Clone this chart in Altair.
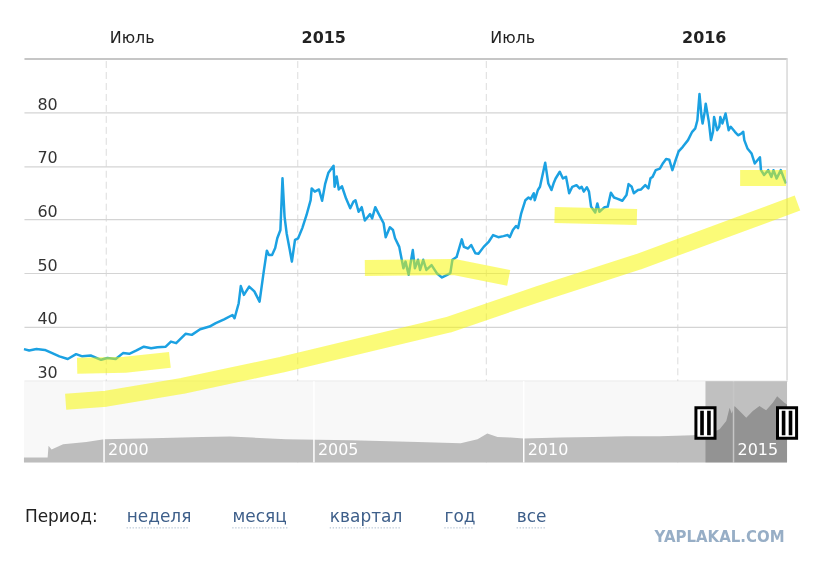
import altair as alt
import pandas as pd

# ---------------- main series ----------------
DATES = [
    "2014-04-14", "2014-04-19", "2014-04-26", "2014-05-04", "2014-05-10", "2014-05-18", "2014-05-26",
    "2014-06-03", "2014-06-09", "2014-06-17", "2014-06-27", "2014-07-03", "2014-07-11", "2014-07-18",
    "2014-07-24", "2014-07-31", "2014-08-07", "2014-08-14", "2014-08-20", "2014-08-28", "2014-09-02",
    "2014-09-07", "2014-09-16", "2014-09-22", "2014-09-30", "2014-10-09", "2014-10-15", "2014-10-23",
    "2014-10-31", "2014-11-02", "2014-11-06", "2014-11-08", "2014-11-11", "2014-11-16", "2014-11-21",
    "2014-11-26", "2014-11-30", "2014-12-03", "2014-12-05", "2014-12-08", "2014-12-11", "2014-12-13",
    "2014-12-16", "2014-12-18", "2014-12-20", "2014-12-22", "2014-12-25", "2014-12-27", "2014-12-30",
    "2015-01-02", "2015-01-06", "2015-01-10", "2015-01-14", "2015-01-15", "2015-01-18", "2015-01-22",
    "2015-01-25", "2015-01-28", "2015-01-31", "2015-02-05", "2015-02-06", "2015-02-08", "2015-02-10",
    "2015-02-13", "2015-02-17", "2015-02-21", "2015-02-24", "2015-02-26", "2015-03-01", "2015-03-04",
    "2015-03-07", "2015-03-12", "2015-03-14", "2015-03-17", "2015-03-20", "2015-03-25", "2015-03-27",
    "2015-03-31", "2015-04-03", "2015-04-05", "2015-04-09", "2015-04-13", "2015-04-15", "2015-04-18",
    "2015-04-22", "2015-04-24", "2015-04-27", "2015-04-29", "2015-05-02", "2015-05-05", "2015-05-10",
    "2015-05-15", "2015-05-20", "2015-05-25", "2015-05-28", "2015-05-30", "2015-06-03", "2015-06-08",
    "2015-06-10", "2015-06-14", "2015-06-17", "2015-06-21", "2015-06-24", "2015-06-29", "2015-07-04",
    "2015-07-08", "2015-07-13", "2015-07-18", "2015-07-22", "2015-07-24", "2015-07-27", "2015-07-30",
    "2015-08-01", "2015-08-04", "2015-08-08", "2015-08-11", "2015-08-13", "2015-08-16", "2015-08-17",
    "2015-08-20", "2015-08-22", "2015-08-27", "2015-08-30", "2015-09-02", "2015-09-04", "2015-09-06",
    "2015-09-10", "2015-09-13", "2015-09-16", "2015-09-19", "2015-09-22", "2015-09-26", "2015-09-29",
    "2015-10-01", "2015-10-03", "2015-10-06", "2015-10-08", "2015-10-10", "2015-10-14", "2015-10-16",
    "2015-10-18", "2015-10-23", "2015-10-26", "2015-10-29", "2015-11-01", "2015-11-04", "2015-11-09",
    "2015-11-13", "2015-11-15", "2015-11-18", "2015-11-20", "2015-11-24", "2015-11-27", "2015-12-01",
    "2015-12-04", "2015-12-06", "2015-12-08", "2015-12-11", "2015-12-15", "2015-12-18", "2015-12-21",
    "2015-12-24", "2015-12-27", "2015-12-30", "2016-01-02", "2016-01-06", "2016-01-11", "2016-01-15",
    "2016-01-18", "2016-01-20", "2016-01-22", "2016-01-24", "2016-01-25", "2016-01-27", "2016-01-28",
    "2016-01-31", "2016-02-02", "2016-02-04", "2016-02-05", "2016-02-08", "2016-02-10", "2016-02-11",
    "2016-02-13", "2016-02-16", "2016-02-19", "2016-02-21", "2016-02-25", "2016-02-28", "2016-03-02",
    "2016-03-04", "2016-03-05", "2016-03-08", "2016-03-12", "2016-03-15", "2016-03-20", "2016-03-21",
    "2016-03-24", "2016-03-28", "2016-03-31", "2016-04-02", "2016-04-05", "2016-04-09", "2016-04-12",
    "2016-04-14",
]
VALUES = [
    35.84, 35.6, 35.85, 35.7, 35.2, 34.5, 34.0,
    34.9, 34.5, 34.65, 33.85, 34.2, 34.0, 35.1,
    34.97, 35.6, 36.3, 36.0, 36.2, 36.3, 37.25,
    36.95, 38.7, 38.5, 39.55, 40.05, 40.7, 41.4,
    42.2, 41.6, 44.4, 47.6, 45.95, 47.5, 46.6,
    44.7, 50.3, 54.2, 53.4, 53.4, 54.7, 56.5,
    58.05, 67.67, 60.5, 57.4, 54.3, 52.15, 56.2,
    56.5, 58.4, 60.8, 63.6, 65.8, 65.2, 65.6,
    63.5, 66.7, 68.7, 70.0, 66.1, 68.0, 65.6,
    66.2, 63.9, 62.1, 63.3, 63.6, 61.45, 62.3,
    59.8, 61.0, 60.2, 62.3, 61.15, 59.3, 56.7,
    58.55, 58.05, 56.5, 54.9, 50.9, 52.15, 49.7,
    54.3, 50.9, 52.5, 50.6, 52.5, 50.6, 51.5,
    50.0, 49.2, 49.7, 50.0, 52.5, 53.0, 56.3,
    54.9, 54.6, 55.25, 53.7, 53.6, 54.9, 55.9,
    57.1, 56.7, 56.9, 57.1, 56.7, 58.05, 58.8,
    58.4, 61.15, 63.6, 64.1, 63.8, 64.9, 63.6,
    65.5, 66.1, 70.6, 66.7, 65.5, 66.7, 67.65,
    68.9, 67.65, 67.95, 64.9, 66.1, 66.4, 65.8,
    66.1, 65.2, 66.0, 65.2, 62.4, 61.3, 63.0,
    61.45, 62.3, 62.4, 65.0, 64.1, 63.9, 63.5,
    64.55, 66.6, 66.1, 64.9, 65.5, 65.6, 66.4,
    65.8, 67.7, 67.95, 69.2, 69.5, 70.5, 71.3,
    71.15, 69.2, 71.0, 72.7, 73.55, 74.8, 76.35,
    77.0, 78.5, 83.4, 79.1, 77.9, 80.05, 81.6,
    78.2, 74.8, 76.35, 79.1, 76.65, 77.3, 79.1,
    77.9, 79.75, 76.65, 77.3, 76.35, 75.7, 76.0,
    76.35, 74.8, 73.25, 72.3, 70.45, 71.6, 69.2,
    68.3, 69.2, 67.95, 69.2, 67.65, 69.2, 67.65,
    66.7,
]

# ---------------- navigator (long history) ----------------
NAV_DATES = [
    "1998-02-03", "1998-08-28", "1998-09-05", "1998-10-01", "1999-01-10", "1999-07-31", "2000-01-01",
    "2001-02-26", "2002-05-06", "2003-01-01", "2003-07-14", "2004-05-04", "2005-02-07", "2005-11-20",
    "2007-06-24", "2008-07-01", "2008-11-25", "2009-02-18", "2009-05-18", "2009-09-08", "2010-01-01",
    "2010-11-15", "2011-08-28", "2012-06-17", "2013-03-30", "2014-01-10", "2014-06-08", "2014-09-02",
    "2014-10-30", "2014-11-28", "2014-12-16", "2015-01-10", "2015-02-23", "2015-04-22", "2015-06-18",
    "2015-08-15", "2015-10-12", "2015-12-09", "2016-01-16", "2016-03-19", "2016-04-11",
]
NAV_VALUES = [
    6.1, 6.3, 20.5, 16.0, 22.3, 25.1, 28.4,
    29.6, 31.2, 31.8, 30.5, 28.4, 28.0, 27.2,
    25.1, 23.5, 28.4, 35.4, 31.2, 30.5, 29.3,
    30.5, 31.2, 32.1, 32.1, 33.3, 35.4, 40.6,
    50.7, 67.0, 60.0, 69.0, 63.0, 54.9, 63.0,
    69.0, 63.8, 73.2, 81.2, 73.2, 71.0,
]
NAV_YEARS = ["2000-01-01", "2005-01-01", "2010-01-01", "2015-01-01"]
NAV_YEAR_LABELS = ["2000", "2005", "2010", "2015"]

# ---------------- highlighter strokes drawn over the chart ----------------
HL_BAND_DATES = ["2014-05-24", "2014-07-02", "2014-09-13", "2014-12-17", "2015-03-23",
                 "2015-05-26", "2015-08-21", "2015-11-24", "2016-02-28", "2016-04-25"]
HL_BAND_VALUES = [26.04, 26.6, 29.0, 32.92, 37.39, 40.37, 46.14, 52.09, 58.98, 63.07]
HL_A_DATES = ["2014-06-04", "2014-07-20", "2014-09-01"]
HL_A_VALUES = [32.74, 32.92, 33.85]
HL_B_DATES = ["2015-03-07", "2015-05-31", "2015-07-23"]
HL_B_VALUES = [50.98, 51.16, 49.11]
HL_C_DATES = ["2015-09-05", "2015-11-23"]
HL_C_VALUES = [60.84, 60.47]
HL_D_DATES = ["2016-03-01", "2016-04-14"]
HL_D_VALUES = [67.73, 67.73]

# ---------------- ranges / labels ----------------
MAIN_START, MAIN_END = "2014-04-14", "2016-04-15"
NAV_START, NAV_END = "1998-02-03", "2016-04-11"
SEL_START = "2014-05-02"
TOP_TICKS = ["2014-07-01", "2015-01-01", "2015-07-01", "2016-01-01"]
Y_TICKS = [30, 40, 50, 60, 70, 80]
PERIOD_LABEL = "Период:"
PERIOD_LINKS = ["неделя", "месяц", "квартал", "год", "все"]
WATERMARK = "YAPLAKAL.COM"

# ---------------- styling / layout ----------------
W, H = 765, 405
BLUE = "#1ba1e2"
YELLOW = "#f7f700"
FONT = "DejaVu Sans"
LINK_X = [103, 209, 306.6, 421.6, 494]
LINK_W = [63, 55, 71, 30, 30]


def dt(s):
    y, m, d = (int(v) for v in s.split("-"))
    return alt.DateTime(year=y, month=m, date=d, utc=True)


def main_x():
    return alt.Scale(type="utc", domain=[dt(MAIN_START), dt(MAIN_END)])


def main_y():
    return alt.Scale(domain=[14.7, 90], nice=False, zero=False)


def nav_x():
    return alt.Scale(type="utc", domain=[dt(NAV_START), dt(NAV_END)])


def nav_y():
    return alt.Scale(domain=[0, 493.9], nice=False, zero=False)


top_axis = alt.Axis(
    orient="top", values=[dt(s) for s in TOP_TICKS], title=None,
    labelExpr="utcmonth(datum.value) == 0 ? utcFormat(datum.value, '%Y') : 'Июль'",
    labelFontWeight=alt.condition("utcmonth(datum.value) == 0", alt.value("bold"), alt.value("normal")),
    labelAlign="left", labelOffset=4, labelPadding=16, labelBaseline="alphabetic",
    labelFontSize=16, labelFont=FONT, labelColor="#222", labelOverlap=False,
    ticks=False, domain=True, domainColor="#c6c6c6", domainWidth=2,
    grid=True, gridDash=[7, 4], gridColor="#dcdcdc", gridWidth=1,
)
left_axis = alt.Axis(
    orient="left", values=Y_TICKS, title=None,
    labelAlign="left", labelPadding=-13, labelBaseline="alphabetic", labelOffset=-3,
    labelFontSize=16, labelFont=FONT, labelColor="#333",
    ticks=False, tickSize=0, domain=False,
    grid=True, gridColor="#d4d4d4", gridWidth=1.2,
)

# ---- navigator panel ----
def nav_xenc(field="date"):
    return alt.X(f"{field}:T", scale=nav_x(), axis=None)


def nav_ydatum(v):
    return alt.YDatum(v, scale=nav_y(), axis=None)


nav_bg = alt.Chart(pd.DataFrame({"date": [NAV_START], "end": [NAV_END]})).mark_rect(color="#f8f8f8").encode(
    x=nav_xenc(), x2="end:T", y=nav_ydatum(0), y2=alt.Y2Datum(99.5),
)
nav_area = alt.Chart(pd.DataFrame({"date": NAV_DATES, "value": NAV_VALUES})).mark_area(
    color="#bdbdbd", opacity=1
).encode(x=nav_xenc(), y=alt.Y("value:Q", scale=nav_y(), axis=None))
year_df = pd.DataFrame({"date": NAV_YEARS, "label": NAV_YEAR_LABELS})
nav_lines = alt.Chart(year_df).mark_rule(color="white", strokeWidth=1.5).encode(
    x=nav_xenc(), y=nav_ydatum(0), y2=alt.Y2Datum(99.5),
)
nav_sel = alt.Chart(pd.DataFrame({"date": [SEL_START], "end": [NAV_END]})).mark_rect(
    color="#c6c6c6", blend="multiply", opacity=1
).encode(x=nav_xenc(), x2="end:T", y=nav_ydatum(0), y2=alt.Y2Datum(99.5))
nav_text = alt.Chart(year_df).mark_text(
    align="left", baseline="alphabetic", dx=4, fontSize=16, color="white", font=FONT
).encode(x=nav_xenc(), y=nav_ydatum(9.8), text="label:N")
handle_df = pd.DataFrame({"date": [SEL_START, NAV_END]})
handle_box = alt.Chart(handle_df).mark_point(
    shape="M-0.58,-0.93H0.58V0.93H-0.58Z", size=1089, filled=True,
    fill="white", stroke="black", strokeWidth=3, opacity=1,
).encode(x=nav_xenc(), y=nav_ydatum(48.4))
handle_bars = alt.Chart(handle_df).mark_point(
    shape="M-0.32,-0.74H-0.1V0.74H-0.32Z M0.1,-0.74H0.32V0.74H0.1Z", size=1089, filled=True,
    color="black", strokeWidth=0, opacity=1,
).encode(x=nav_xenc(), y=nav_ydatum(48.4))

# ---- main panel ----
line_df = pd.DataFrame({"date": DATES, "value": VALUES})
line = alt.Chart(line_df).mark_line(color=BLUE, strokeWidth=2.5, strokeJoin="round").encode(
    x=alt.X("date:T", scale=main_x(), axis=top_axis),
    y=alt.Y("value:Q", scale=main_y(), axis=left_axis),
)
border = alt.Chart(pd.DataFrame({"date": [MAIN_END]})).mark_rule(color="#d8d8d8", strokeWidth=1.5).encode(
    x=alt.X("date:T", scale=main_x(), axis=None),
    y=alt.YDatum(30, scale=main_y(), axis=None),
    y2=alt.Y2Datum(90),
)
hl_frames = []
for name, ds, vs in [("band", HL_BAND_DATES, HL_BAND_VALUES), ("a", HL_A_DATES, HL_A_VALUES),
                     ("b", HL_B_DATES, HL_B_VALUES), ("c", HL_C_DATES, HL_C_VALUES),
                     ("d", HL_D_DATES, HL_D_VALUES)]:
    hl_frames.append(pd.DataFrame({"stroke": name, "date": ds, "value": vs}))
hl_df = pd.concat(hl_frames, ignore_index=True)
highlight = alt.Chart(hl_df).mark_line(
    color=YELLOW, strokeWidth=16, strokeCap="butt", strokeJoin="round", opacity=0.53
).encode(
    x=alt.X("date:T", scale=main_x(), axis=None),
    y=alt.Y("value:Q", scale=main_y(), axis=None),
    detail="stroke:N",
)

ui_layers = [
    alt.Chart(pd.DataFrame({"t": [PERIOD_LABEL]})).mark_text(
        align="left", baseline="alphabetic", fontSize=17, color="#222", font=FONT
    ).encode(text="t:N", x=alt.value(1), y=alt.value(465))
]
for lbl, lx, lw in zip(PERIOD_LINKS, LINK_X, LINK_W):
    ui_layers.append(
        alt.Chart(pd.DataFrame({"t": [lbl]})).mark_text(
            align="left", baseline="alphabetic", fontSize=17, color="#3e5f8a", font=FONT
        ).encode(text="t:N", x=alt.value(lx), y=alt.value(465))
    )
    ui_layers.append(
        alt.Chart(pd.DataFrame({"t": [lbl]})).mark_rule(
            color="#8ea4bd", strokeWidth=1, strokeDash=[1, 2]
        ).encode(x=alt.value(lx), x2=alt.value(lx + lw), y=alt.value(470.5))
    )
ui_layers.append(
    alt.Chart(pd.DataFrame({"t": [WATERMARK]})).mark_text(
        align="right", baseline="alphabetic", fontSize=15, fontWeight="bold", color="#97aec6", font=FONT
    ).encode(text="t:N", x=alt.value(762.5), y=alt.value(484.7))
)

chart = (
    alt.layer(
        line,
        nav_bg, nav_area, nav_lines, nav_sel, nav_text, handle_box, handle_bars,
        border, highlight, *ui_layers,
    )
    .resolve_scale(x="independent", y="independent")
    .properties(
        width=W, height=H,
        autosize=alt.AutoSizeParams(type="none"),
        padding={"left": 16, "top": 50, "right": 18, "bottom": 96},
        background="white",
    )
    .configure(font=FONT)
    .configure_view(stroke=None)
)

chart.save("out.html", embed_options={"renderer": "svg", "actions": False})
